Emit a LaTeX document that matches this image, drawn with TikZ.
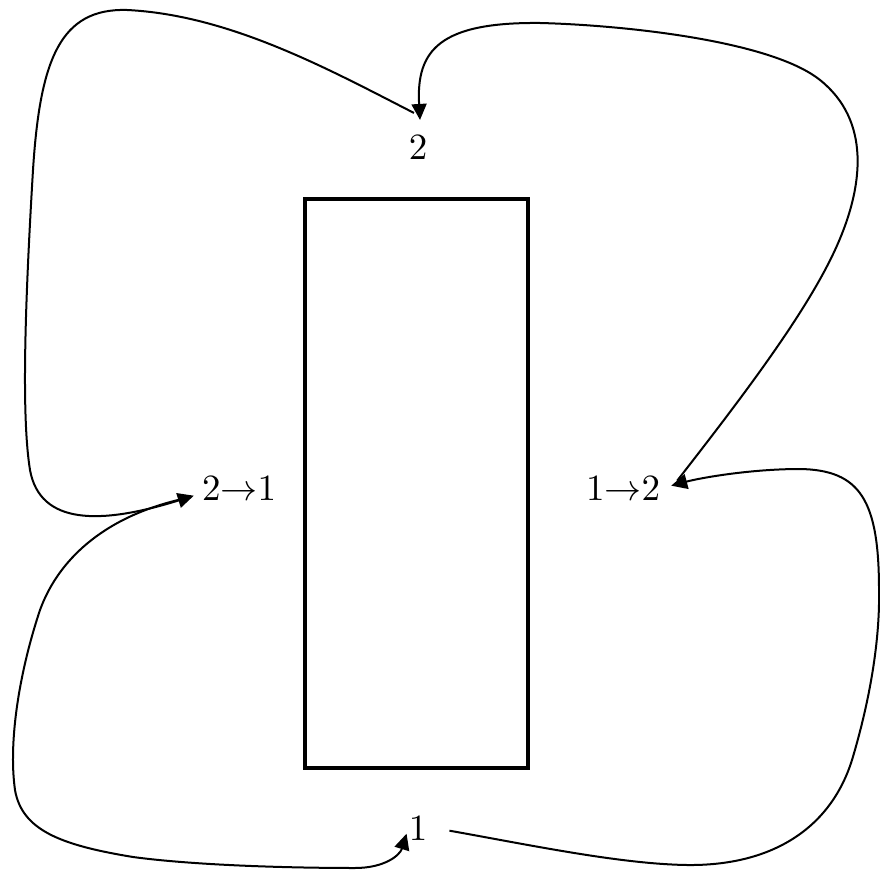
\documentclass[tikz,border=0pt]{standalone}
\usepackage{graphicx}
\usetikzlibrary{arrows.meta}
\newcommand\biglbl[1]{\scalebox{3.7}{$#1$}}
\begin{document}
\begin{tikzpicture}[x=1pt,y=-1pt,
  lbl/.style={inner sep=0pt, anchor=base},
  flow/.style={line width=2pt, -{Triangle[length=16pt,width=15pt]}},
  boxst/.style={draw, line width=4pt, minimum width=223pt, minimum height=569pt, inner sep=0pt}]
\useasboundingbox (0,0) rectangle (880,874);
\node[boxst] (box) at (416.5,483.5) {};
\node[lbl] (n2)  at (418,160) {\biglbl{2}};
\node[lbl] (n21) at (239,500) {\biglbl{2{\to}1}};
\node[lbl] (n12) at (623,500) {\biglbl{1{\to}2}};
\node[lbl] (n1)  at (418,840) {\biglbl{1}};
% 1 -> 1->2
\draw[flow] ([xshift=22pt,yshift=-2.6pt]n1.east)
  .. controls (530,845) and (620,864) .. (687,865)
  .. controls (770,866) and (830,830) .. (852,760)
  .. controls (870,700) and (880,640) .. (879,590)
  .. controls (879,500) and (860,470) .. (800,469)
  .. controls (750,469) and (700,478) .. ([xshift=11pt,yshift=2.4pt]n12.east);
% 1->2 -> 2
\draw[flow] ([xshift=17pt,yshift=7.4pt]n12.east)
  .. controls (740,400) and (805,315) .. (835,250)
  .. controls (865,185) and (870,120) .. (820,80)
  .. controls (770,40) and (620,25) .. (540,23)
  .. controls (440,22) and (416,50) .. ([xshift=2pt,yshift=16pt]n2.north);
% 2 -> 2->1
\draw[flow] ([xshift=-4pt,yshift=23pt]n2.north)
  .. controls (330,70) and (230,15) .. (127,10)
  .. controls (60,8) and (40,60) .. (33,170)
  .. controls (24,320) and (22,420) .. (30,470)
  .. controls (40,525) and (100,525) .. ([xshift=-8pt,yshift=-7.6pt]n21.west);
% 2->1 -> 1
\draw[flow] ([xshift=-18pt,yshift=-10.6pt]n21.west)
  .. controls (110,515) and (60,555) .. (40,610)
  .. controls (20,670) and (8,740) .. (15,790)
  .. controls (22,830) and (60,845) .. (133,857)
  .. controls (200,866) and (300,868) .. (355,868)
  .. controls (385,868) and (400,855) .. ([xshift=-2pt,yshift=-5.6pt]n1.west);
\end{tikzpicture}
\end{document}
